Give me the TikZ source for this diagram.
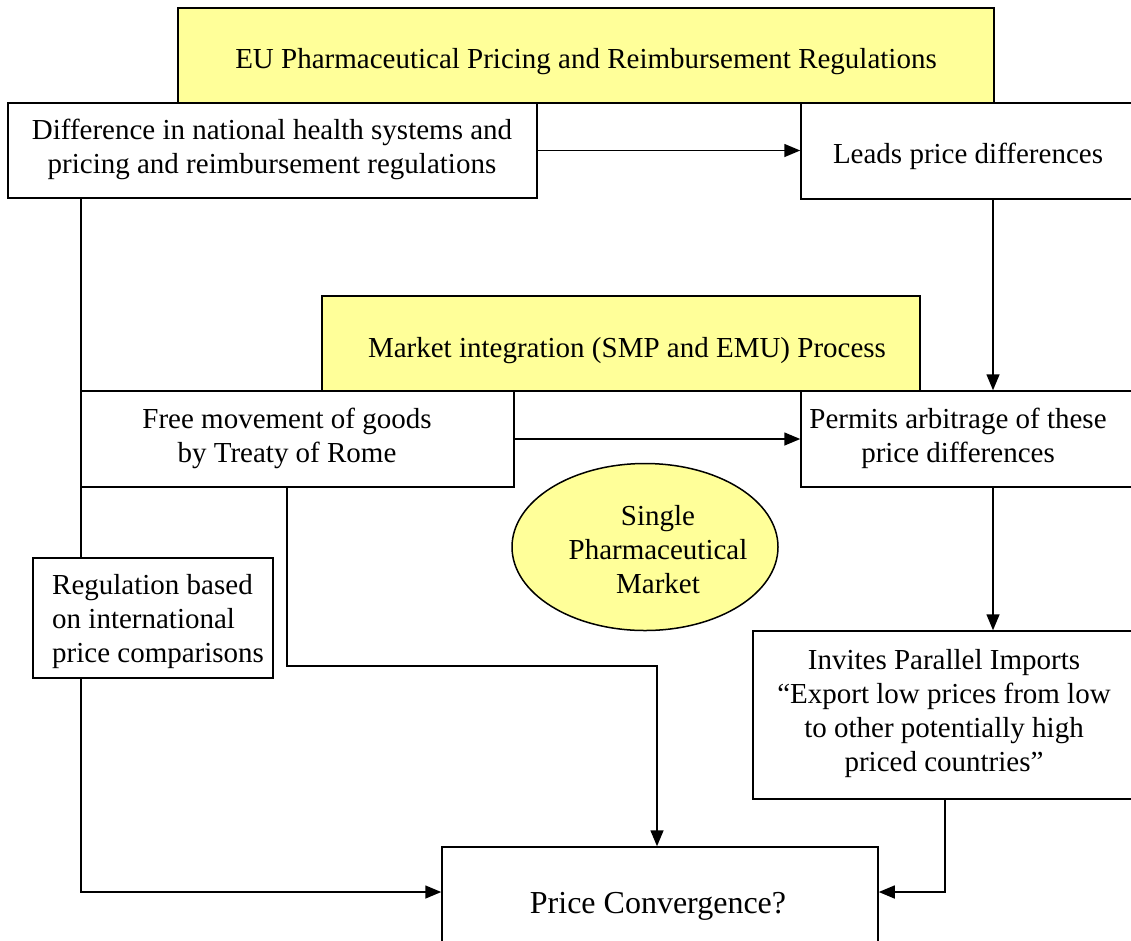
\documentclass[tikz,border=0pt]{standalone}
\usepackage{fontspec}
\setmainfont{Liberation Serif}
\usetikzlibrary{arrows.meta,shapes.geometric}
\definecolor{ylw}{HTML}{FFFF99}
\pgfdeclarelayer{bg}
\pgfsetlayers{bg,main}
\begin{document}
\begin{tikzpicture}[x=1pt,y=-1pt,
  box/.style={draw=black,line width=1.5pt,fill=white,inner sep=0pt,rectangle},
  ybox/.style={box,fill=ylw},
  txt/.style={font=\fontsize{29}{34}\selectfont,align=center,inner sep=0pt},
  arr/.style={line width=1.5pt,-{Triangle[length=16pt,width=13pt]}},
  ln/.style={line width=1.5pt}]
\useasboundingbox (0,0) rectangle (1131,940);
\clip (0,0) rectangle (1131,940);
% boxes
\node[ybox,minimum width=816pt,minimum height=95pt] (eu) at (586,55.5) {};
\node[box,minimum width=529pt,minimum height=95pt] (diff) at (272.5,150.5) {};
\node[box,minimum width=339pt,minimum height=96pt] (leads) at (970.5,151) {};
\node[ybox,minimum width=598pt,minimum height=95pt] (mkt) at (621,343.5) {};
\node[box,minimum width=433pt,minimum height=96pt] (free) at (297.5,439) {};
\node[box,minimum width=339pt,minimum height=96pt] (permits) at (970.5,439) {};
\node[draw=black,line width=1.5pt,fill=ylw,ellipse,inner sep=0pt,minimum width=266pt,minimum height=167pt] (single) at (645,547) {};
\node[box,minimum width=240pt,minimum height=120pt] (regul) at (153,618) {};
\node[box,minimum width=387pt,minimum height=168pt] (invites) at (946.5,715) {};
\node[box,minimum width=436pt,minimum height=113pt] (price) at (660,903.5) {};
% texts
\node[txt] (eut) at (586,62) {EU Pharmaceutical Pricing and Reimbursement Regulations};
\node[txt] (difft) at (272,149) {Difference in national health systems and\\pricing and reimbursement regulations};
\node[txt] (leadst) at (968,156) {Leads price differences};
\node[txt] (mktt) at (627,351) {Market integration (SMP and EMU) Process};
\node[txt] (freet) at (287,438) {Free movement of goods\\by Treaty of Rome};
\node[txt] (permitst) at (958,438) {Permits arbitrage of these\\price differences};
\node[txt] (singlet) at (658,550) {Single\\Pharmaceutical\\Market};
\node[txt,align=left,anchor=west] (regult) at (52,622) {Regulation based\\on international\\price comparisons};
\node[txt] (invitest) at (944,714) {Invites Parallel Imports\\“Export low prices from low\\to other potentially high\\priced countries”};
\node[txt,font=\fontsize{32}{38}\selectfont] (pricet) at (658,906) {Price Convergence?};
% helper coordinates
\coordinate (xL) at (81,0);
\coordinate (xF) at (287,0);
\coordinate (yF) at (0,666);
\coordinate (xP) at (657,0);
\coordinate (xR) at (993,0);
\coordinate (xI) at (945,0);
\coordinate (yJ) at (0,892);
\begin{pgfonlayer}{bg}
\draw[arr] (diff.east) -- (diff.east -| leads.west);
\draw[arr] (leads.south -| xR) -- (permits.north -| xR);
\draw[arr] (free.east) -- (free.east -| permits.west);
\draw[arr] (permits.south -| xR) -- (invites.north -| xR);
\draw[arr] (diff.south -| xL) |- (price.west |- yJ);
\draw[arr] (free.south -| xF) |- (yF -| xP) -- (price.north -| xP);
\draw[arr] (invites.south -| xI) |- (price.east |- yJ);
\end{pgfonlayer}
\end{tikzpicture}
\end{document}
